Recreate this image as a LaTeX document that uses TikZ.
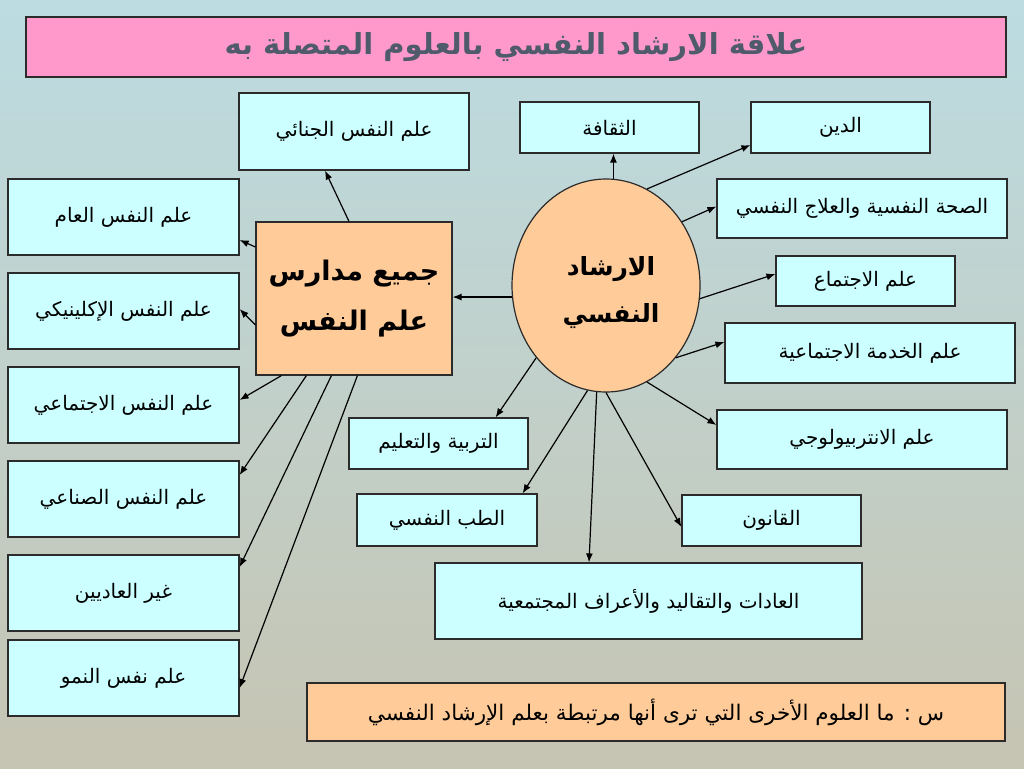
\documentclass[tikz,border=0pt]{standalone}
\usepackage{fontspec}
\usetikzlibrary{shapes.geometric,arrows.meta}
\newfontfamily\arabicfont[Script=Arabic]{DejaVu Sans}
\TeXXeTstate=1
\definecolor{boxcyan}{HTML}{CCFFFF}
\definecolor{boxorange}{HTML}{FFCC99}
\definecolor{titlepink}{HTML}{FF99CC}
\definecolor{titletext}{HTML}{4F5B6B}
\definecolor{edgegrey}{HTML}{2B2B2B}
\definecolor{bgtop}{HTML}{BCDCE2}
\definecolor{bgmid}{HTML}{E4EDE8}
\definecolor{bgbot}{HTML}{C6C4B2}
\newcommand{\artext}[1]{\beginR #1\endR}

\begin{document}
\begin{tikzpicture}[x=1pt,y=-1pt,
  box/.style={draw=edgegrey, line width=1.2pt, fill=boxcyan, inner sep=0pt,
    font=\arabicfont\fontsize{20}{24}\selectfont},
  hubbox/.style={draw=edgegrey, line width=1.2pt, fill=boxorange, inner sep=0pt,
    align=center, font=\arabicfont\bfseries\fontsize{27}{50}\selectfont},
  arr/.style={-{Latex[length=9pt,width=7pt]}, line width=1.2pt, black}]

% background
\shade[top color=bgtop, middle color=bgmid, bottom color=bgbot] (0,0) rectangle (1024,768);

% title
\node[draw=edgegrey, line width=1.2pt, fill=titlepink, minimum width=980pt, minimum height=60pt,
  font=\arabicfont\bfseries\fontsize{29}{34}\selectfont, text=titletext] (t) at (516,47)
  {\artext{علاقة الارشاد النفسي بالعلوم المتصلة به}};

% centre
\node[ellipse, draw=edgegrey, line width=1.2pt, fill=boxorange, minimum width=188pt, minimum height=213pt,
  inner sep=0pt, label={[align=center, xshift=5pt, yshift=-7pt,
  font=\arabicfont\bfseries\fontsize{25}{47}\selectfont]center:{\artext{الارشاد}\\\artext{النفسي}}}]
  (v0) at (606,285.5) {};
\node[hubbox, minimum width=196pt, minimum height=153pt] (v18) at (354,298.5)
  {\artext{جميع مدارس}\\\artext{علم النفس}};

% related sciences
\node[box, minimum width=230pt, minimum height=77pt] (v1) at (354,131.5) {\artext{علم النفس الجنائي}};
\node[box, minimum width=179pt, minimum height=51pt] (v2) at (609.5,127.5) {\artext{الثقافة}};
\node[box, minimum width=179pt, minimum height=51pt] (v3) at (840.5,127.5) {\artext{الدين}};
\node[box, minimum width=290pt, minimum height=59pt] (v4) at (862,208.5) {\artext{الصحة النفسية والعلاج النفسي}};
\node[box, minimum width=179pt, minimum height=50pt] (v5) at (865.5,281) {\artext{علم الاجتماع}};
\node[box, minimum width=290pt, minimum height=60pt] (v6) at (870,353) {\artext{علم الخدمة الاجتماعية}};
\node[box, minimum width=290pt, minimum height=59pt] (v7) at (862,439.5) {\artext{علم الانتربيولوجي}};
\node[box, minimum width=179pt, minimum height=51pt] (v8) at (771.5,520.5) {\artext{القانون}};
\node[box, minimum width=427pt, minimum height=76pt] (v9) at (648.5,601) {\artext{العادات والتقاليد والأعراف المجتمعية}};
\node[box, minimum width=180pt, minimum height=52pt] (v10) at (447,520) {\artext{الطب النفسي}};
\node[box, minimum width=179pt, minimum height=51pt] (v11) at (438.5,443.5) {\artext{التربية والتعليم}};

% schools of psychology
\node[box, minimum width=231pt, minimum height=76pt] (v12) at (123.5,217) {\artext{علم النفس العام}};
\node[box, minimum width=231pt, minimum height=76pt] (v13) at (123.5,311) {\artext{علم النفس الإكلينيكي}};
\node[box, minimum width=231pt, minimum height=76pt] (v14) at (123.5,405) {\artext{علم النفس الاجتماعي}};
\node[box, minimum width=231pt, minimum height=76pt] (v15) at (123.5,499) {\artext{علم النفس الصناعي}};
\node[box, minimum width=231pt, minimum height=76pt] (v16) at (123.5,593) {\artext{غير العاديين}};
\node[box, minimum width=231pt, minimum height=76pt] (v17) at (123.5,678) {\artext{علم نفس النمو}};

% question
\node[draw=edgegrey, line width=1.2pt, fill=boxorange, minimum width=698pt, minimum height=58pt,
  font=\arabicfont\fontsize{21.5}{25}\selectfont] (q) at (656,712)
  {\artext{س : ما العلوم الأخرى  التي ترى أنها مرتبطة بعلم الإرشاد النفسي}};

% arrows from the centre
\draw[arr] (v0.187) -- (v0.187 -| v18.east);
\draw[arr] (v0.86) -- (v0.86 |- v2.south);
\draw[arr] (v0.67) -- ([yshift=-17.5pt]v3.west);
\draw[arr] (v0.40) -- ([yshift=2pt]v4.west);
\draw[arr] (v0.352) -- ([yshift=7pt]v5.west);
\draw[arr] (v0.314) -- ([yshift=11pt]v6.west);
\draw[arr] (v0.293) -- ([yshift=14.5pt]v7.west);
\draw[arr] (v0.270.5) -- ([yshift=-6.5pt]v8.west);
\draw[arr] (v0.265) -- ([xshift=-59.5pt]v9.north);
\draw[arr] (v0.260) -- ([xshift=-15pt]v10.north east);
\draw[arr] (v0.226) -- ([xshift=-33pt]v11.north east);

% arrows from the schools box
\draw[arr] ([xshift=-5pt]v18.north) -- ([xshift=-29pt]v1.south);
\draw[arr] ([yshift=51.5pt]v18.west) -- ([yshift=-23pt]v12.east);
\draw[arr] ([yshift=-26.5pt]v18.west) -- ([yshift=2pt]v13.east);
\draw[arr] ([xshift=26pt]v18.south west) -- ([yshift=5pt]v14.east);
\draw[arr] ([xshift=51pt]v18.south west) -- ([yshift=24pt]v15.east);
\draw[arr] ([xshift=76pt]v18.south west) -- ([yshift=26pt]v16.east);
\draw[arr] ([xshift=102pt]v18.south west) -- ([yshift=-10pt]v17.east);
\end{tikzpicture}
\end{document}
